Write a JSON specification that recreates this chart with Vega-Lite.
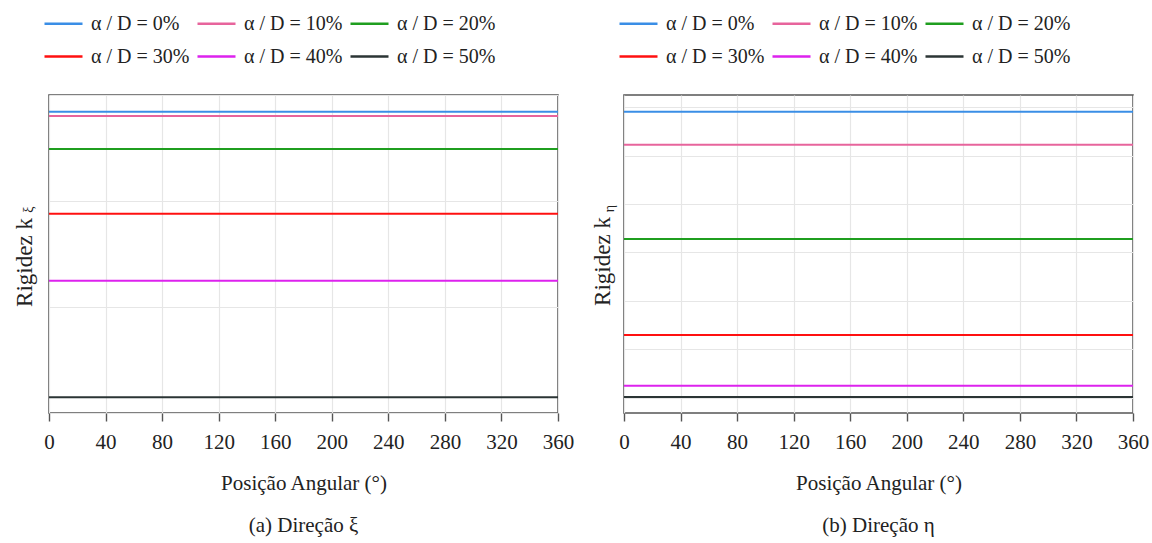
{
  "$schema": "https://vega.github.io/schema/vega-lite/v6.json",
  "padding": {"left": 12, "top": 2, "right": 10, "bottom": 5},
  "background": "white",
  "config": {
    "font": "Liberation Serif",
    "view": {"stroke": "#555555", "strokeWidth": 1.6},
    "axis": {
      "gridColor": "#e6e6e6",
      "gridWidth": 1.2,
      "labelFont": "Liberation Serif",
      "titleFont": "Liberation Serif",
      "labelColor": "#222222",
      "titleColor": "#222222",
      "titleFontWeight": "normal"
    },
    "legend": {
      "orient": "none",
      "legendX": -6,
      "legendY": -92,
      "columns": 3,
      "direction": "horizontal",
      "symbolType": "stroke",
      "symbolSize": 1444,
      "symbolStrokeWidth": 2.5,
      "labelFont": "Liberation Serif",
      "labelFontSize": 20,
      "labelColor": "#222222",
      "labelOffset": 7,
      "columnPadding": 2,
      "rowPadding": 2,
      "gridAlign": "all",
      "padding": 0,
      "title": null
    },
    "title": {"font": "Liberation Serif", "fontSize": 21, "fontWeight": "normal", "color": "#222222"}
  },
  "datasets": {
    "direcao_xi": [
      {"pos": 0, "k": 2.842, "serie": "α / D = 0%"},
      {"pos": 360, "k": 2.842, "serie": "α / D = 0%"},
      {"pos": 0, "k": 2.802, "serie": "α / D = 10%"},
      {"pos": 360, "k": 2.802, "serie": "α / D = 10%"},
      {"pos": 0, "k": 2.491, "serie": "α / D = 20%"},
      {"pos": 360, "k": 2.491, "serie": "α / D = 20%"},
      {"pos": 0, "k": 1.880, "serie": "α / D = 30%"},
      {"pos": 360, "k": 1.880, "serie": "α / D = 30%"},
      {"pos": 0, "k": 1.248, "serie": "α / D = 40%"},
      {"pos": 360, "k": 1.248, "serie": "α / D = 40%"},
      {"pos": 0, "k": 0.148, "serie": "α / D = 50%"},
      {"pos": 360, "k": 0.148, "serie": "α / D = 50%"}
    ],
    "direcao_eta": [
      {"pos": 0, "k": 6.909, "serie": "α / D = 0%"},
      {"pos": 360, "k": 6.909, "serie": "α / D = 0%"},
      {"pos": 0, "k": 6.227, "serie": "α / D = 10%"},
      {"pos": 360, "k": 6.227, "serie": "α / D = 10%"},
      {"pos": 0, "k": 4.279, "serie": "α / D = 20%"},
      {"pos": 360, "k": 4.279, "serie": "α / D = 20%"},
      {"pos": 0, "k": 2.295, "serie": "α / D = 30%"},
      {"pos": 360, "k": 2.295, "serie": "α / D = 30%"},
      {"pos": 0, "k": 1.248, "serie": "α / D = 40%"},
      {"pos": 360, "k": 1.248, "serie": "α / D = 40%"},
      {"pos": 0, "k": 1.014, "serie": "α / D = 50%"},
      {"pos": 360, "k": 1.014, "serie": "α / D = 50%"}
    ]
  },
  "spacing": 15,
  "resolve": {"scale": {"color": "independent"}, "legend": {"color": "independent"}},
  "hconcat": [
    {
      "width": 509,
      "height": 318,
      "title": {"text": "(a)  Direção ξ", "orient": "bottom", "offset": 22},
      "data": {"name": "direcao_xi"},
      "layer": [
        {
          "mark": {"type": "line", "strokeWidth": 2},
          "encoding": {
            "x": {
              "field": "pos", "type": "quantitative",
              "scale": {"domain": [0, 360], "nice": false},
              "axis": {
                "values": [0, 40, 80, 120, 160, 200, 240, 280, 320, 360],
                "title": "Posição Angular (°)",
                "domain": false, "tickColor": "#555555", "tickSize": 8, "tickWidth": 1.4,
                "labelFontSize": 21, "labelPadding": 10, "titleFontSize": 21, "titlePadding": 20,
                "labelFlush": false
              }
            },
            "y": {
              "field": "k", "type": "quantitative",
              "scale": {"domain": [0, 3], "nice": false, "zero": false},
              "axis": {
                "values": [0, 1, 2, 3], "labels": false, "ticks": false, "domain": false,
                "title": "Rigidez k", "titleFontSize": 23, "titleBaseline": "alphabetic",
                "titleX": -18, "titleY": 167, "titleAngle": -90
              }
            },
            "color": {
              "field": "serie", "type": "nominal",
              "scale": {
                "domain": ["α / D = 0%", "α / D = 10%", "α / D = 20%", "α / D = 30%", "α / D = 40%", "α / D = 50%"],
                "range": ["#3a8ee6", "#e7649c", "#1f9e1f", "#ff1010", "#dd22ee", "#2b3535"]
              }
            }
          }
        },
        {
          "mark": {"type": "line", "opacity": 0},
          "encoding": {
            "x": {"field": "pos", "type": "quantitative"},
            "y": {
              "field": "k", "type": "quantitative",
              "axis": {
                "orient": "left", "grid": false, "labels": false, "ticks": false, "domain": false,
                "title": "ξ", "titleFontSize": 14, "titleBaseline": "alphabetic",
                "titleX": -17, "titleY": 114, "titleAngle": -90
              }
            },
            "detail": {"field": "serie"}
          }
        }
      ],
      "resolve": {"axis": {"y": "independent"}}
    },
    {
      "width": 509,
      "height": 318,
      "title": {"text": "(b)  Direção η", "orient": "bottom", "offset": 22},
      "data": {"name": "direcao_eta"},
      "layer": [
        {
          "mark": {"type": "line", "strokeWidth": 2},
          "encoding": {
            "x": {
              "field": "pos", "type": "quantitative",
              "scale": {"domain": [0, 360], "nice": false},
              "axis": {
                "values": [0, 40, 80, 120, 160, 200, 240, 280, 320, 360],
                "title": "Posição Angular (°)",
                "domain": false, "tickColor": "#555555", "tickSize": 8, "tickWidth": 1.4,
                "labelFontSize": 21, "labelPadding": 10, "titleFontSize": 21, "titlePadding": 20,
                "labelFlush": false
              }
            },
            "y": {
              "field": "k", "type": "quantitative",
              "scale": {"domain": [0.684, 7.254], "nice": false, "zero": false},
              "axis": {
                "values": [1, 2, 3, 4, 5, 6, 7], "labels": false, "ticks": false, "domain": false,
                "title": "Rigidez k", "titleFontSize": 23, "titleBaseline": "alphabetic",
                "titleX": -15, "titleY": 166, "titleAngle": -90
              }
            },
            "color": {
              "field": "serie", "type": "nominal",
              "scale": {
                "domain": ["α / D = 0%", "α / D = 10%", "α / D = 20%", "α / D = 30%", "α / D = 40%", "α / D = 50%"],
                "range": ["#3a8ee6", "#e7649c", "#1f9e1f", "#ff1010", "#dd22ee", "#2b3535"]
              }
            }
          }
        },
        {
          "mark": {"type": "line", "opacity": 0},
          "encoding": {
            "x": {"field": "pos", "type": "quantitative"},
            "y": {
              "field": "k", "type": "quantitative",
              "axis": {
                "orient": "left", "grid": false, "labels": false, "ticks": false, "domain": false,
                "title": "η", "titleFontSize": 14, "titleBaseline": "alphabetic",
                "titleX": -11, "titleY": 113, "titleAngle": -90
              }
            },
            "detail": {"field": "serie"}
          }
        }
      ],
      "resolve": {"axis": {"y": "independent"}}
    }
  ]
}
